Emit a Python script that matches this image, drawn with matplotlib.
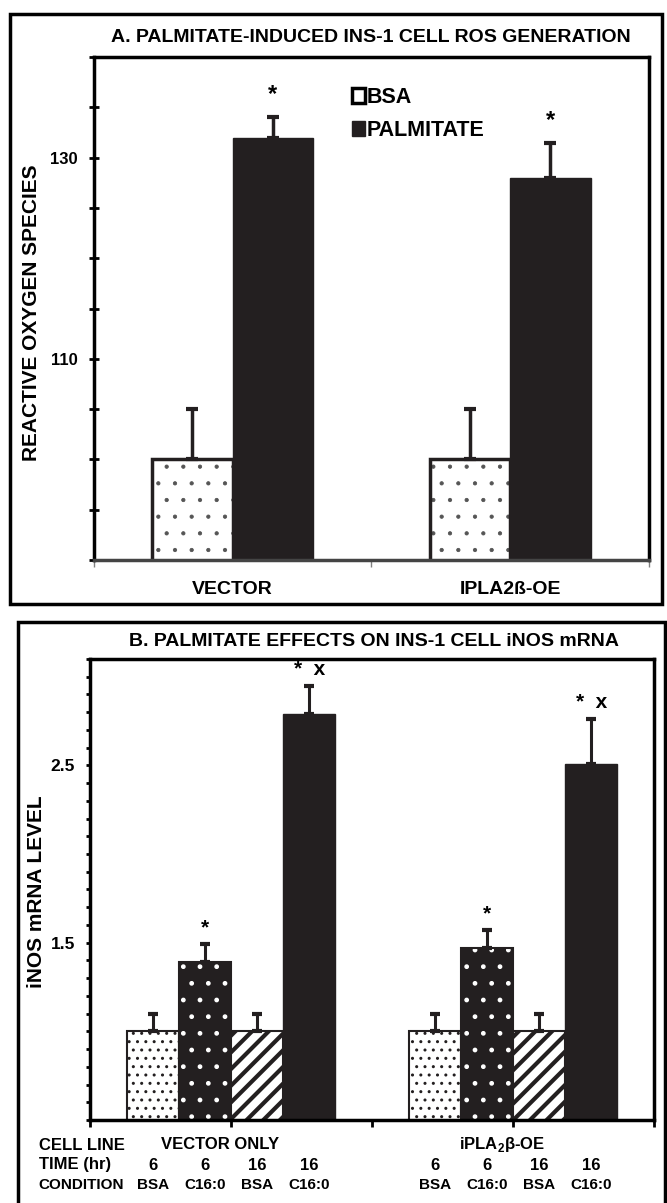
import numpy as np
import matplotlib
matplotlib.use("Agg")
import matplotlib.pyplot as plt
from matplotlib.patches import Rectangle, Patch

plt.rcParams['font.family'] = ['Liberation Sans', 'DejaVu Sans']
plt.rcParams['font.weight'] = 'bold'
plt.rcParams['mathtext.fontset'] = 'custom'
plt.rcParams['mathtext.rm'] = 'Liberation Sans:bold'
plt.rcParams['mathtext.bf'] = 'Liberation Sans:bold'

# ---- panel A data ----
a_groups = ['VECTOR', 'IPLA2ß-OE']
a_bsa = [100, 100]
a_bsa_err = [5, 5]
a_palm = [132, 128]
a_palm_err = [2, 3.5]
a_marks = ['*', '*']

# ---- panel B data ----
b_groups = ['VECTOR ONLY', r'iPLA$_\mathbf{2}$β-OE']
b_times = ['6', '6', '16', '16']
b_conds = ['BSA', 'C16:0', 'BSA', 'C16:0']
b_vector = [1.0, 1.39, 1.0, 2.79]
b_vector_err = [0.1, 0.1, 0.1, 0.16]
b_ipla = [1.0, 1.47, 1.0, 2.51]
b_ipla_err = [0.1, 0.1, 0.1, 0.25]
b_marks = ['', '*', '', '*  x']

DARK = '#231f20'


def hatched_bar(ax, x, h, width, face, hcolor, hatch, hlw, edge_lw):
    # hatch colour follows the edge colour, so outline is drawn separately
    with plt.rc_context({'hatch.linewidth': hlw}):
        bars = ax.bar(x, h, width, color=face, edgecolor=hcolor, lw=0, hatch=hatch)
    for p in bars:
        if hasattr(p, 'set_hatch_linewidth'):
            p.set_hatch_linewidth(hlw)
    ax.bar(x, h, width, fill=False, edgecolor=DARK, lw=edge_lw)


fig = plt.figure(figsize=(6.67, 12.03), dpi=100)

# outer frames
fig.patches.append(Rectangle((0.015, 0.498), 0.978, 0.4905, transform=fig.transFigure,
                             fill=False, lw=2.5, ec='black'))
fig.patches.append(Rectangle((0.027, -0.02), 0.97, 0.503, transform=fig.transFigure,
                             fill=False, lw=2.5, ec='black'))

# ================= panel A =================
axA = fig.add_axes([0.1409, 0.5345, 0.832, 0.418])
xa = np.arange(len(a_groups)) + 0.5
w = 0.29
hatched_bar(axA, xa - w / 2, a_bsa, w, 'white', '#555555', '.', 0.6, 2.5)
axA.bar(xa + w / 2, a_palm, w, color=DARK, edgecolor=DARK, lw=1)
axA.errorbar(xa - w / 2, a_bsa, yerr=[np.zeros(2), a_bsa_err], fmt='none',
             ecolor=DARK, elinewidth=2.5, capsize=4, capthick=3)
axA.errorbar(xa + w / 2, a_palm, yerr=[np.zeros(2), a_palm_err], fmt='none',
             ecolor=DARK, elinewidth=2.5, capsize=4, capthick=3)
for x, v, e, m in zip(xa + w / 2, a_palm, a_palm_err, a_marks):
    axA.annotate(m, (x, v + e), xytext=(0, 8), textcoords='offset points',
                 ha='center', va='bottom', fontsize=17)

axA.set_xlim(0, 2)
axA.set_ylim(90, 140)
axA.set_xticks([0, 1, 2])
axA.set_xticklabels([])
axA.set_xticks(xa, minor=True)
axA.set_xticklabels(a_groups, minor=True, fontsize=14)
axA.tick_params(axis='x', which='major', direction='out', length=5, color='gray', width=1)
axA.tick_params(axis='x', which='minor', length=0, pad=15)
axA.set_yticks([110, 130])
axA.set_yticklabels(['110', '130'], fontsize=12)
axA.set_yticks(np.arange(90, 141, 5), minor=True)
axA.tick_params(axis='y', which='both', direction='inout', length=7, width=2, pad=8)
for s in axA.spines.values():
    s.set_linewidth(2.5)
axA.spines['bottom'].set_color('#444444')

axA.legend(handles=[Patch(facecolor='white', edgecolor='black', lw=2.5, label='BSA'),
                    Patch(facecolor=DARK, edgecolor=DARK, label='PALMITATE')],
           loc='upper left', bbox_to_anchor=(0.43, 0.98), frameon=False,
           handlelength=0.6, handleheight=0.7, handletextpad=0.1,
           labelspacing=0.6, prop={'size': 15.5, 'weight': 'bold'})

fig.text(0.556, 0.9692, 'A. PALMITATE-INDUCED INS-1 CELL ROS GENERATION',
         ha='center', va='center', fontsize=14)
fig.text(0.047, 0.74, 'REACTIVE OXYGEN SPECIES', rotation=90,
         ha='center', va='center', fontsize=15)

# ================= panel B =================
axB = fig.add_axes([0.135, 0.069, 0.8456, 0.3832])
centers = np.array([1.0, 3.0])
bw = 0.37
offs = (np.arange(4) - 1.5) * bw

for c, vals, errs in zip(centers, [b_vector, b_ipla], [b_vector_err, b_ipla_err]):
    xs = c + offs
    hatched_bar(axB, xs[0], vals[0], bw, 'white', DARK, '..', 1.0, 1.5)
    hatched_bar(axB, xs[1], vals[1], bw, DARK, 'white', '.', 1.0, 1.5)
    hatched_bar(axB, xs[2], vals[2], bw, 'white', DARK, '//', 3.0, 1.5)
    axB.bar(xs[3], vals[3], bw, color=DARK, edgecolor=DARK, lw=1)
    axB.errorbar(xs, vals, yerr=[np.zeros(4), errs], fmt='none', ecolor=DARK,
                 elinewidth=2.2, capsize=3.5, capthick=3)
    for x, v, e, m in zip(xs, vals, errs, b_marks):
        if m:
            axB.annotate(m, (x, v + e), xytext=(0, 5), textcoords='offset points',
                         ha='center', va='bottom', fontsize=15)
    for x, t, cnd in zip(xs, b_times, b_conds):
        axB.text(x, -0.098, t, transform=axB.get_xaxis_transform(),
                 ha='center', va='center', fontsize=12)
        axB.text(x, -0.141, cnd, transform=axB.get_xaxis_transform(),
                 ha='center', va='center', fontsize=11)

for c, g in zip(centers, b_groups):
    axB.text(c - 0.08, -0.054, g, transform=axB.get_xaxis_transform(),
             ha='center', va='center', fontsize=12)
fig.text(0.058, 1 - 1145 / 1203, 'CELL LINE', ha='left', va='center', fontsize=12)
fig.text(0.058, 1 - 1165 / 1203, 'TIME (hr)', ha='left', va='center', fontsize=12)
fig.text(0.058, 1 - 1185 / 1203, 'CONDITION', ha='left', va='center', fontsize=11)

axB.set_xlim(0, 4)
axB.set_ylim(0.5, 3.1)
axB.set_xticks([0, 1, 2, 3, 4])
axB.set_xticklabels([])
axB.tick_params(axis='x', direction='out', length=5, width=2)
axB.set_yticks([1.5, 2.5])
axB.set_yticklabels(['1.5', '2.5'], fontsize=12.5)
axB.set_yticks(np.arange(0.5, 3.11, 0.1), minor=True)
axB.tick_params(axis='y', which='both', direction='out', length=3, width=2, pad=8)
for s in axB.spines.values():
    s.set_linewidth(2.5)

fig.text(0.56, 1 - 642 / 1203, 'B. PALMITATE EFFECTS ON INS-1 CELL iNOS mRNA',
         ha='center', va='center', fontsize=14)
fig.text(0.054, 0.259, 'iNOS mRNA LEVEL', rotation=90,
         ha='center', va='center', fontsize=15)

fig.savefig('out.png', dpi=100)
